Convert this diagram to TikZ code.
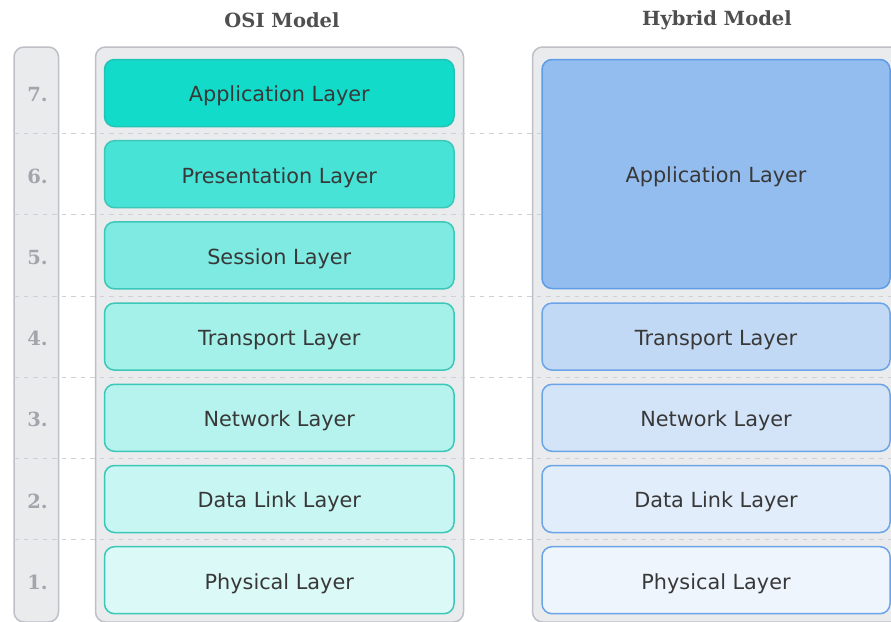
\documentclass[tikz,border=0pt]{standalone}
\usepackage{fontspec}
\setmainfont{DejaVu Sans}
\newfontfamily\serifbold{DejaVu Serif}[BoldFont=DejaVu Serif Bold]
\begin{document}
\begin{tikzpicture}[x=1pt,y=-1pt,
  panel/.style={fill=panelfill,draw=panelline,line width=1.5pt,rounded corners=10pt},
  guide/.style={draw=guideline,line width=1pt,dash pattern=on 4.5pt off 5pt},
  layerbox/.style={rectangle,rounded corners=10pt,line width=1.5pt,
    minimum height=67pt,inner sep=0pt,text=textgray,
    text height=17.6pt,text depth=0pt,
    font=\fontsize{20.8}{24}\selectfont},
  osibox/.style={layerbox,minimum width=349.5pt,draw=tealline},
  hybbox/.style={layerbox,minimum width=348pt,draw=blueline},
  heading/.style={font=\serifbold\bfseries\fontsize{19.5}{23}\selectfont,text=headgray},
  rownum/.style={font=\serifbold\bfseries\fontsize{19.5}{23}\selectfont,text=numgray}]

\definecolor{panelfill}{HTML}{EAEBED}
\definecolor{panelline}{HTML}{BFC0C7}
\definecolor{guideline}{HTML}{CFD0D5}
\definecolor{textgray}{HTML}{383838}
\definecolor{headgray}{HTML}{4F4F4F}
\definecolor{numgray}{HTML}{A3A4AC}
\definecolor{tealline}{HTML}{3CC8B8}
\definecolor{tealdark}{HTML}{22C4B5}
\definecolor{blueline}{HTML}{6CA4E8}
\definecolor{bluedark}{HTML}{5E9DE6}
\definecolor{osiA}{HTML}{12DBCA}
\definecolor{osiB}{HTML}{48E3D7}
\definecolor{osiC}{HTML}{7EEAE2}
\definecolor{osiD}{HTML}{A4F1EA}
\definecolor{osiE}{HTML}{B7F3EE}
\definecolor{osiF}{HTML}{C8F6F2}
\definecolor{osiG}{HTML}{DBF9F6}
\definecolor{hybA}{HTML}{93BDEF}
\definecolor{hybD}{HTML}{C2D9F5}
\definecolor{hybE}{HTML}{D3E4F9}
\definecolor{hybF}{HTML}{E1EDFA}
\definecolor{hybG}{HTML}{EFF5FD}

\useasboundingbox (0,0) rectangle (891,621);
\begin{scope}
\clip (0,0) rectangle (891,621);

% column panels
\path[panel] (14,47) rectangle (58.5,622);
\path[panel] (95.5,47) rectangle (463.5,622);
\path[panel] (532.5,47) rectangle (905,622);

% row separators
\foreach \j in {0,...,5}
  \draw[guide] (14,{133.6+81.2*\j}) -- (891,{133.6+81.2*\j});

% headings
\node[heading] (osititle) at (282,20) {OSI Model};
\node[heading] (hybtitle) at (717,20) {Hybrid Model};

% OSI layers
\node[osibox,fill=osiA,draw=tealdark] (osi7) at (279.25,93.0) {Application Layer};
\node[osibox,fill=osiB] (osi6) at (279.25,174.2) {Presentation Layer};
\node[osibox,fill=osiC] (osi5) at (279.25,255.4) {Session Layer};
\node[osibox,fill=osiD] (osi4) at (279.25,336.6) {Transport Layer};
\node[osibox,fill=osiE] (osi3) at (279.25,417.8) {Network Layer};
\node[osibox,fill=osiF] (osi2) at (279.25,499.0) {Data Link Layer};
\node[osibox,fill=osiG] (osi1) at (279.25,580.2) {Physical Layer};

% hybrid layers
\node[hybbox,fill=hybA,draw=bluedark,minimum height=229pt] (hybapp) at (716,174) {Application Layer};
\node[hybbox,fill=hybD] (hyb4) at (716,336.6) {Transport Layer};
\node[hybbox,fill=hybE] (hyb3) at (716,417.8) {Network Layer};
\node[hybbox,fill=hybF] (hyb2) at (716,499.0) {Data Link Layer};
\node[hybbox,fill=hybG] (hyb1) at (716,580.2) {Physical Layer};

% row numbers
\foreach \n/\k in {7/0,6/1,5/2,4/3,3/4,2/5,1/6}
  \node[rownum] (num\n) at (37.5,{95+81.2*\k}) {\n.};
\end{scope}
\end{tikzpicture}
\end{document}
